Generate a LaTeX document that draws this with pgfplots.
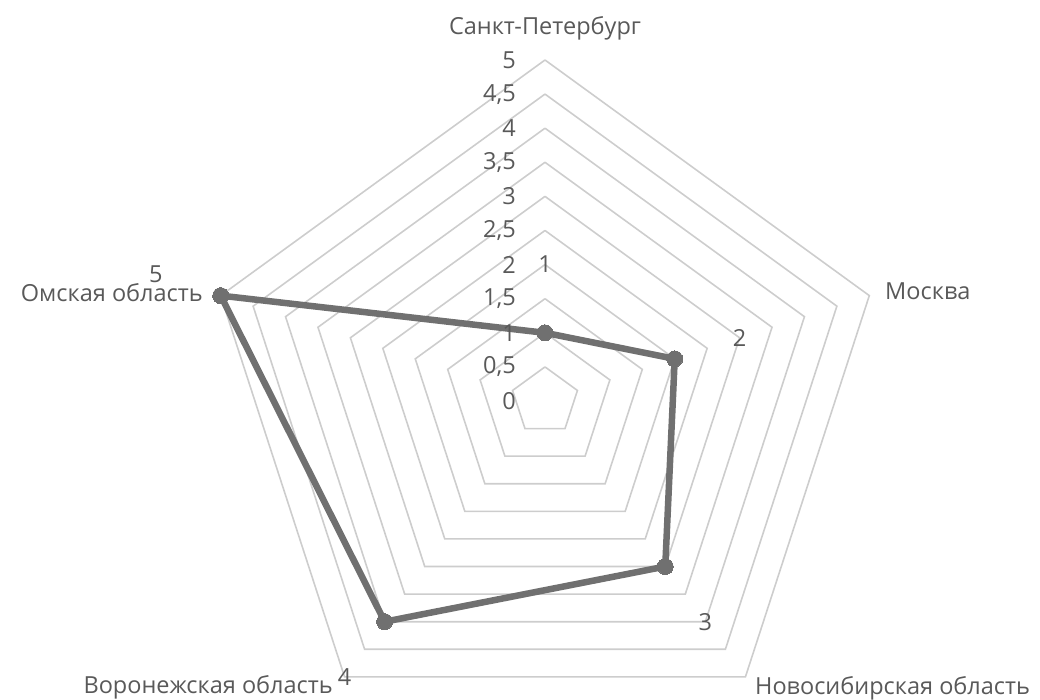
\documentclass[border=0pt]{standalone}
\usepackage{pgfplots}
\pgfplotsset{compat=1.18}
\usepgfplotslibrary{polar}
\usepackage{fontspec}
\setmainfont{Open Sans}
\definecolor{txt}{RGB}{89,89,89}
\definecolor{gridc}{RGB}{205,205,205}
\definecolor{linec}{RGB}{112,112,112}
\begin{document}
\begin{tikzpicture}[font=\fontsize{23.5bp}{27bp}\selectfont, text=txt]
\begin{polaraxis}[
  hide axis,
  scale only axis,
  width=682bp, height=682bp,
  xmin=0, xmax=360,
  ymin=0, ymax=5,
  clip=false,
]
\pgfplotsinvokeforeach{0.5,1,1.5,2,2.5,3,3.5,4,4.5,5}{
  \addplot[gridc, line width=1.6bp, no marks] coordinates {(90,#1) (18,#1) (-54,#1) (-126,#1) (162,#1) (90,#1)};
}
\addplot[linec, line width=6.5bp, line join=round, mark=*, mark size=8bp, mark options={fill=linec, draw=linec, line width=0pt}]
  coordinates {(90,1) (18,2) (-54,3) (-126,4) (162,5) (90,1)};
% value axis labels
\node[anchor=east, inner sep=0pt, xshift=-29bp] at (axis cs:90,0) {0};
\node[anchor=east, inner sep=0pt, xshift=-29bp] at (axis cs:90,0.5) {0,5};
\node[anchor=east, inner sep=0pt, xshift=-29bp] at (axis cs:90,1) {1};
\node[anchor=east, inner sep=0pt, xshift=-29bp] at (axis cs:90,1.5) {1,5};
\node[anchor=east, inner sep=0pt, xshift=-29bp] at (axis cs:90,2) {2};
\node[anchor=east, inner sep=0pt, xshift=-29bp] at (axis cs:90,2.5) {2,5};
\node[anchor=east, inner sep=0pt, xshift=-29bp] at (axis cs:90,3) {3};
\node[anchor=east, inner sep=0pt, xshift=-29bp] at (axis cs:90,3.5) {3,5};
\node[anchor=east, inner sep=0pt, xshift=-29bp] at (axis cs:90,4) {4};
\node[anchor=east, inner sep=0pt, xshift=-29bp] at (axis cs:90,4.5) {4,5};
\node[anchor=east, inner sep=0pt, xshift=-29bp] at (axis cs:90,5) {5};
% data labels
\node[inner sep=0pt] at (axis cs:90,2) {1};
\node[inner sep=0pt] at (axis cs:18,3) {2};
\node[inner sep=0pt] at (axis cs:-54,4) {3};
\node[inner sep=0pt] at (axis cs:-126,5) {4};
\node[inner sep=0pt] at (axis cs:162,6) {5};
\coordinate (c) at (axis cs:0,0);
\end{polaraxis}
\node[inner sep=0pt] at ([shift={(0bp,373bp)}]c) {Санкт-Петербург};
\node[inner sep=0pt, anchor=west] at ([shift={(340bp,110bp)}]c) {Москва};
\node[inner sep=0pt, anchor=east] at ([shift={(-342bp,108bp)}]c) {Омская область};
\node[inner sep=0pt, anchor=east] at ([shift={(-212bp,-286bp)}]c) {Воронежская область};
\node[inner sep=0pt, anchor=west] at ([shift={(210bp,-287bp)}]c) {Новосибирская область};
\pgfresetboundingbox
\path[use as bounding box] (c) ++(-545bp,-299bp) rectangle ++(1040bp,700bp);
\end{tikzpicture}
\end{document}
